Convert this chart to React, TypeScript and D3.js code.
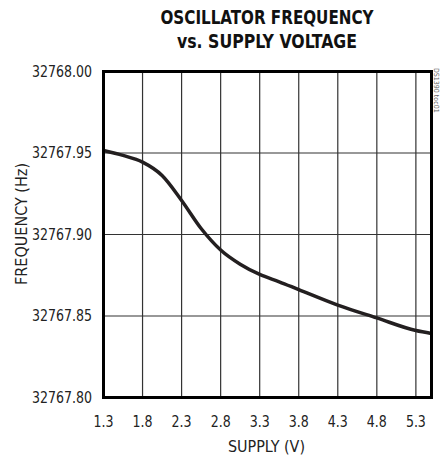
import React from "react";
import * as d3 from "d3";

const supplyV = [1.3, 1.55, 1.8, 2.05, 2.3, 2.55, 2.8, 3.05, 3.3, 3.55, 3.8, 4.3, 4.8, 5.3, 5.5];
const freqHz = [32767.9515, 32767.9485, 32767.9444, 32767.9362, 32767.9209, 32767.9037, 32767.8905, 32767.8818, 32767.8755, 32767.871, 32767.8662, 32767.8567, 32767.8488, 32767.8411, 32767.8393];
const xTicks = [1.3, 1.8, 2.3, 2.8, 3.3, 3.8, 4.3, 4.8, 5.3];
const yTicks = [32767.8, 32767.85, 32767.9, 32767.95, 32768.0];
const titleLines = ["OSCILLATOR FREQUENCY", "vs. SUPPLY VOLTAGE"];

const W = 440, H = 459;
const L = 103.5, R = 431.5, T = 71.5, B = 397.5;
const NARROW = "'Liberation Sans Narrow', 'Arial Narrow', 'DejaVu Sans Condensed', sans-serif";

export default function App() {
  const x = d3.scaleLinear().domain([1.3, 5.5]).range([L, R]);
  const y = d3.scaleLinear().domain([32767.8, 32768.0]).range([B, T]);
  const pts = supplyV.map((v, i) => [v, freqHz[i]] as [number, number]);
  const line = d3.line<[number, number]>().x(d => x(d[0])).y(d => y(d[1])).curve(d3.curveMonotoneX);

  return (
    <svg width={W} height={H} style={{ position: "absolute", left: 0, top: 0, background: "#fff" }}>
      {titleLines.map((t, i) => (
        <text key={t} x={267} y={24 + i * 24} textAnchor="middle" fontFamily={NARROW} fontWeight="bold"
          fontSize={20} fill="#111" textLength={i === 0 ? 213 : 180} lengthAdjust="spacingAndGlyphs">{t}</text>
      ))}
      {xTicks.slice(1).map(v => (
        <line key={"gx" + v} x1={x(v)} x2={x(v)} y1={T} y2={B} stroke="#333" strokeWidth={1.2} />
      ))}
      {yTicks.slice(1, -1).map(v => (
        <line key={"gy" + v} x1={L} x2={R} y1={y(v)} y2={y(v)} stroke="#333" strokeWidth={1.2} />
      ))}
      <path d={line(pts) || ""} fill="none" stroke="#231f20" strokeWidth={3.5} strokeLinejoin="round" />
      <rect x={L} y={T} width={R - L} height={B - T} fill="none" stroke="#000" strokeWidth={3} />
      {yTicks.map(v => (
        <text key={"ty" + v} x={92} y={y(v)} dy="0.36em" textAnchor="end" fontFamily={NARROW}
          fontSize={15} fill="#222" textLength={60} lengthAdjust="spacingAndGlyphs">{v.toFixed(2)}</text>
      ))}
      {xTicks.map(v => (
        <text key={"tx" + v} x={x(v)} y={426.5} textAnchor="middle" fontFamily={NARROW}
          fontSize={16} fill="#222" textLength={20} lengthAdjust="spacingAndGlyphs">{v.toFixed(1)}</text>
      ))}
      <text x={266.5} y={452} textAnchor="middle" fontFamily={NARROW} fontSize={16} fill="#222"
        textLength={77} lengthAdjust="spacingAndGlyphs">SUPPLY (V)</text>
      <text transform={`translate(27,224) rotate(-90)`} textAnchor="middle" fontFamily={NARROW}
        fontSize={16} fill="#222" textLength={122} lengthAdjust="spacingAndGlyphs">FREQUENCY (Hz)</text>
      <text transform={`translate(434,68) rotate(90)`} textAnchor="start" fontFamily={NARROW}
        fontSize={7} fill="#666">DS1390 toc01</text>
    </svg>
  );
}
